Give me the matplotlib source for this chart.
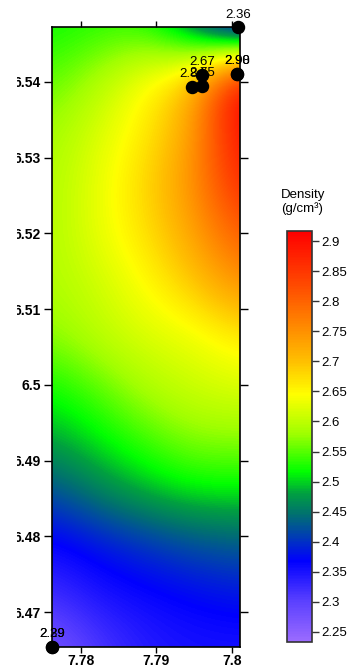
import matplotlib.pyplot as plt
import numpy as np
from matplotlib.colors import LinearSegmentedColormap
from matplotlib.transforms import Bbox, TransformedBbox

# density field (rows top -> bottom, cols left -> right)
xmin, xmax = 7.77616, 7.80106
ymin, ymax = 6.46538, 6.54726
field = [
    [2.52, 2.53, 2.53, 2.44, 2.30],
    [2.55, 2.59, 2.645, 2.70, 2.93],
    [2.58, 2.62, 2.66, 2.73, 2.91],
    [2.59, 2.63, 2.68, 2.75, 2.87],
    [2.59, 2.63, 2.67, 2.73, 2.81],
    [2.59, 2.61, 2.645, 2.69, 2.75],
    [2.57, 2.60, 2.62, 2.63, 2.66],
    [2.52, 2.55, 2.59, 2.61, 2.62],
    [2.48, 2.51, 2.54, 2.57, 2.57],
    [2.42, 2.46, 2.49, 2.51, 2.51],
    [2.36, 2.38, 2.40, 2.42, 2.43],
    [2.32, 2.35, 2.36, 2.37, 2.38],
    [2.27, 2.31, 2.34, 2.35, 2.35],
]

# sample points
px = [7.8008, 7.8007, 7.8007, 7.7947, 7.7960, 7.7960, 7.7762, 7.7762]
py = [6.5472, 6.5411, 6.5411, 6.5393, 6.5395, 6.5409, 6.4654, 6.4654]
plabels = ['2.36', '2.98', '2.90', '2.84', '2.75', '2.67', '2.29', '2.39']

vmin, vmax = 2.233, 2.917
stops = [(2.233, '#9b6bff'), (2.30, '#5a40ff'), (2.367, '#0000ff'),
         (2.41, '#0040b0'), (2.445, '#007070'), (2.48, '#00a040'),
         (2.516, '#00ff00'), (2.58, '#a0ff00'), (2.645, '#ffff00'),
         (2.70, '#ffc000'), (2.76, '#ff8800'), (2.83, '#ff4800'),
         (2.917, '#ff0000')]
cmap = LinearSegmentedColormap.from_list(
    'dens', [((v - vmin) / (vmax - vmin), c) for v, c in stops])

plt.rcParams['font.family'] = ['Liberation Sans', 'DejaVu Sans']

fig = plt.figure(figsize=(3.53, 6.70), dpi=100)
ax = fig.add_axes([52 / 353, 23 / 670, 188 / 353, 620 / 670])

arr = np.array(field)
nr, nc = arr.shape
dx = (xmax - xmin) / (nc - 1)
dy = (ymax - ymin) / (nr - 1)
im = ax.imshow(arr, cmap=cmap, vmin=vmin, vmax=vmax, interpolation='bicubic',
               extent=[xmin - dx / 2, xmax + dx / 2, ymin - dy / 2, ymax + dy / 2],
               origin='upper', aspect='auto')
ax.set_xlim(xmin, xmax)
ax.set_ylim(ymin, ymax)

ax.scatter(px, py, s=75, color='black', zorder=5, clip_on=False)
for x, y, t in zip(px, py, plabels):
    ax.annotate(t, (x, y), xytext=(0, 5), textcoords='offset points',
                ha='center', va='bottom', fontsize=9.5, zorder=6,
                annotation_clip=False)

ax.set_xticks([7.78, 7.79, 7.80])
ax.set_xticklabels(['7.78', '7.79', '7.8'])
ax.set_yticks([6.47, 6.48, 6.49, 6.50, 6.51, 6.52, 6.53, 6.54])
ax.set_yticklabels(['6.47', '6.48', '6.49', '6.5', '6.51', '6.52', '6.53', '6.54'])
ax.tick_params(direction='out', width=1, labelsize=10, top=True, right=True)
ax.tick_params(axis='y', length=6, pad=2)
ax.tick_params(axis='x', length=4.5, pad=0.5)
for lab in ax.get_xticklabels() + ax.get_yticklabels():
    lab.set_fontweight('bold')
for s in ax.spines.values():
    s.set_linewidth(1.2)

# left part of y labels is cut off in the original
clip = TransformedBbox(Bbox([[16.5 / 353, 0], [1, 1]]), fig.transFigure)
for lab in ax.get_yticklabels():
    lab.set_clip_on(True)
    lab.set_clip_box(clip)

cax = fig.add_axes([287 / 353, 28 / 670, 25 / 353, 411 / 670])
cb = fig.colorbar(im, cax=cax)
cb.set_ticks([2.25, 2.3, 2.35, 2.4, 2.45, 2.5, 2.55, 2.6, 2.65, 2.7, 2.75, 2.8, 2.85, 2.9])
cb.set_ticklabels(['2.25', '2.3', '2.35', '2.4', '2.45', '2.5', '2.55', '2.6',
                   '2.65', '2.7', '2.75', '2.8', '2.85', '2.9'])
cax.tick_params(length=5, width=1, color='#333333', labelsize=9.5, pad=2)
cb.outline.set_edgecolor('#333333')
cb.outline.set_linewidth(1.2)

fig.text(281 / 353, 1 - 189 / 670, 'Density\n(g/cm³)', ha='left', va='top',
         fontsize=9.5, linespacing=1.15)

fig.savefig('out.png', dpi=100)
